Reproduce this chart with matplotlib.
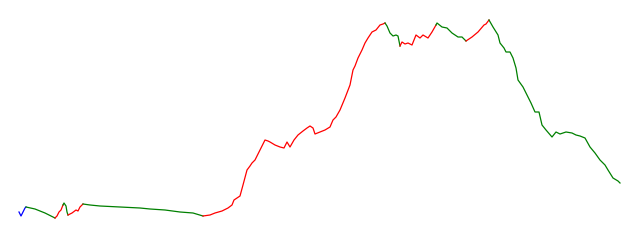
import matplotlib
matplotlib.use("Agg")
import matplotlib.pyplot as plt

# time index and price level (higher = up)
days = [19, 21, 23, 25, 26, 35, 45, 55, 57, 59, 61, 63, 64, 66, 67, 68,
        72, 76, 78, 80, 83, 90, 100, 120, 140, 150, 165, 180, 193, 203,
        210, 215, 222, 228, 232, 234, 240, 243, 247, 250, 252, 255, 260, 265,
        268, 270, 275, 280, 284, 287, 290, 294, 298, 303, 307, 310, 313, 315,
        320, 325, 330, 333, 336, 340, 345, 350, 353, 355, 358, 362, 365, 368,
        372, 376, 380, 383, 385, 387, 390, 393, 396, 398, 400, 402, 405, 408,
        412, 416, 420, 423, 428, 432, 436, 437, 442, 447, 452, 458, 462, 466,
        472, 478, 484, 486, 489, 493, 498, 500, 504, 506, 510, 513, 516, 518,
        523, 527, 531, 535, 539, 542, 546, 552, 556, 560, 566, 572, 576, 580,
        585, 590, 595, 600, 605, 608, 613, 618, 620]
price = [28, 24, 28, 32, 33, 31, 27, 22, 24, 28, 30, 35, 37, 34, 28, 25,
         27, 30, 29, 33, 36, 35, 34, 33, 32, 31, 30, 28, 27, 24,
         25, 27, 29, 32, 35, 40, 44, 55, 70, 74, 77, 80, 90, 100,
         99, 98, 95, 93, 92, 98, 93, 100, 105, 109, 112, 114, 112, 106,
         108, 110, 113, 120, 123, 130, 142, 155, 170, 174, 182, 190, 197, 202,
         208, 210, 215, 216, 217, 214, 207, 204, 205, 204, 194, 198, 196, 197,
         195, 205, 202, 205, 202, 208, 215, 217, 213, 212, 207, 203, 203, 199,
         203, 208, 215, 216, 220, 213, 205, 197, 192, 188, 188, 182, 172, 160,
         153, 145, 137, 128, 128, 115, 110, 103, 108, 106, 108, 107, 105, 104,
         102, 93, 87, 80, 75, 70, 62, 59, 57]

# trend regimes: start index into days/price and colour label
regime_start = [0, 4, 7, 11, 15, 20, 29, 76, 82, 92, 99, 104]
regime_trend = ['flat', 'down', 'up', 'down', 'up', 'down', 'up', 'down',
                'up', 'down', 'up', 'down']
trend_colors = {'flat': 'blue', 'down': 'green', 'up': 'red'}

fig = plt.figure(figsize=(6.4, 2.4), dpi=100)
ax = fig.add_axes([0, 0, 1, 1])

for i, start in enumerate(regime_start):
    end = regime_start[i + 1] if i + 1 < len(regime_start) else len(days) - 1
    ax.plot(days[start:end + 1], price[start:end + 1],
            color=trend_colors[regime_trend[i]], linewidth=0.9)

ax.set_xlim(0, 640)
ax.set_ylim(0, 240)
ax.axis("off")

fig.savefig("out.png", dpi=100)
